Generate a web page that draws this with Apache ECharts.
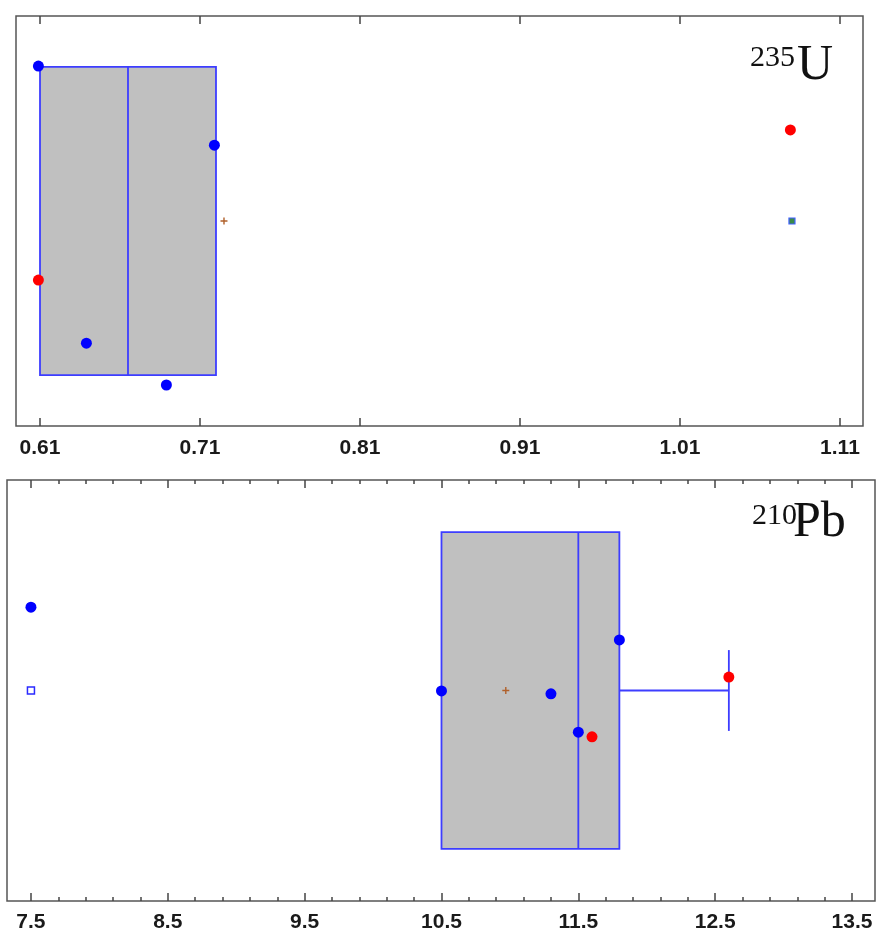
<!DOCTYPE html>
<html>
<head>
<meta charset="utf-8">
<script src="https://cdn.jsdelivr.net/npm/echarts@6/dist/echarts.min.js"></script>
<style>
html,body{margin:0;padding:0;background:#fff;}
#c{width:876px;height:933px;}
</style>
</head>
<body>
<div id="c"></div>
<script>
// ---------- data: 235U ----------
const uTicks = [0.61, 0.71, 0.81, 0.91, 1.01, 1.11];
const uBox = [0.61, 0.665, 0.72, 0.61, 0.72]; // q1, median, q3, whisker low, whisker high
const uBlue = [[0.609, 0.878], [0.719, 0.685], [0.639, 0.202], [0.689, 0.100]];
const uRed = [[0.609, 0.356], [1.079, 0.722]];
const uMean = [[0.725, 0.5]];
const uOutlier = [[1.08, 0.5]];

// ---------- data: 210Pb ----------
const pbTicks = [7.5, 8.5, 9.5, 10.5, 11.5, 12.5, 13.5];
const pbBox = [10.5, 11.5, 11.8, 10.5, 12.6];
const pbBlue = [[10.5, 0.499], [11.8, 0.62], [11.3, 0.492], [11.5, 0.401], [7.5, 0.698]];
const pbRed = [[11.6, 0.39], [12.6, 0.532]];
const pbMean = [[10.97, 0.5]];
const pbOutlier = [[7.5, 0.5]];

// minor ticks: 5 subdivisions between major ticks
const pbMinor = [];
for (let i = 0; i < pbTicks.length - 1; i++) {
  for (let k = 1; k < 5; k++) pbMinor.push(+(pbTicks[i] + k * (pbTicks[i + 1] - pbTicks[i]) / 5).toFixed(2));
}

const BOX_HALF = 0.376, CAP_HALF = 0.096;
const BOX_STROKE = '#3d3dff';
const FRAME = '#555555';

function boxRender(params, api) {
  const q1 = api.value(0), med = api.value(1), q3 = api.value(2), lo = api.value(3), hi = api.value(4);
  const yc = 0.5;
  const p = (x, y) => api.coord([x, y]);
  const ln = (a, b) => ({type: 'line', shape: {x1: a[0], y1: a[1], x2: b[0], y2: b[1]}, style: {stroke: BOX_STROKE, lineWidth: 1.8}});
  const ch = [];
  if (hi > q3) { ch.push(ln(p(q3, yc), p(hi, yc))); ch.push(ln(p(hi, yc + CAP_HALF), p(hi, yc - CAP_HALF))); }
  if (lo < q1) { ch.push(ln(p(lo, yc), p(q1, yc))); ch.push(ln(p(lo, yc + CAP_HALF), p(lo, yc - CAP_HALF))); }
  const a = p(q1, yc + BOX_HALF), b = p(q3, yc - BOX_HALF);
  ch.push({type: 'rect', shape: {x: a[0], y: a[1], width: b[0] - a[0], height: b[1] - a[1]},
    style: {fill: '#c0c0c0', stroke: BOX_STROKE, lineWidth: 1.8}});
  ch.push(ln(p(med, yc + BOX_HALF), p(med, yc - BOX_HALF)));
  return {type: 'group', children: ch};
}

const PLUS = 'path://M4,0H6V4H10V6H6V10H4V6H0V4H4Z';

function tickAxis(grid, pos, min, max, vals, len, labels, fmt, margin) {
  return {
    type: 'value', gridIndex: grid, position: pos, min: min, max: max,
    axisLine: {show: false},
    splitLine: {show: false},
    axisTick: {show: true, inside: true, length: len, customValues: vals, lineStyle: {color: '#444', width: 1.5}},
    axisLabel: labels ? {show: true, customValues: vals, formatter: fmt, fontFamily: 'Liberation Sans, Arial, sans-serif',
      fontWeight: 'bold', fontSize: 21, color: '#1a1a1a', margin: margin} : {show: false},
    axisPointer: {show: false}
  };
}

const uMin = 0.595, uMax = 1.1244;
const pbMin = 7.325, pbMax = 13.668;

const chart = echarts.init(document.getElementById('c'), null, {renderer: 'canvas'});
chart.setOption({
  animation: false,
  backgroundColor: '#fff',
  grid: [
    {left: 16, top: 16, width: 847, height: 410, show: true, borderColor: FRAME, borderWidth: 1.5, backgroundColor: 'transparent'},
    {left: 7, top: 480, width: 868, height: 421, show: true, borderColor: FRAME, borderWidth: 1.5, backgroundColor: 'transparent'}
  ],
  xAxis: [
    tickAxis(0, 'bottom', uMin, uMax, uTicks, 8, true, v => v.toFixed(2), 12),
    tickAxis(0, 'top', uMin, uMax, uTicks, 8, false),
    tickAxis(1, 'bottom', pbMin, pbMax, pbTicks, 8, true, v => v.toFixed(1), 11),
    tickAxis(1, 'top', pbMin, pbMax, pbTicks, 8, false),
    tickAxis(1, 'bottom', pbMin, pbMax, pbMinor, 4, false),
    tickAxis(1, 'top', pbMin, pbMax, pbMinor, 4, false)
  ],
  yAxis: [
    {type: 'value', gridIndex: 0, min: 0, max: 1, show: false},
    {type: 'value', gridIndex: 1, min: 0, max: 1, show: false}
  ],
  series: [
    {type: 'custom', xAxisIndex: 0, yAxisIndex: 0, renderItem: boxRender, data: [uBox], z: 1, silent: true},
    {type: 'scatter', xAxisIndex: 0, yAxisIndex: 0, data: uMean, symbol: PLUS, symbolSize: 7, itemStyle: {color: '#b0602a', opacity: 1}, z: 3},
    {type: 'scatter', xAxisIndex: 0, yAxisIndex: 0, data: uOutlier, symbol: 'rect', symbolSize: 6,
      itemStyle: {color: '#3a8a4a', borderColor: '#4060ff', borderWidth: 1.2, opacity: 1}, z: 3},
    {type: 'scatter', xAxisIndex: 0, yAxisIndex: 0, data: uBlue, symbol: 'circle', symbolSize: 11, itemStyle: {color: '#0000ff', opacity: 1}, z: 4},
    {type: 'scatter', xAxisIndex: 0, yAxisIndex: 0, data: uRed, symbol: 'circle', symbolSize: 11, itemStyle: {color: '#ff0000', opacity: 1}, z: 4},

    {type: 'custom', xAxisIndex: 2, yAxisIndex: 1, renderItem: boxRender, data: [pbBox], z: 1, silent: true},
    {type: 'scatter', xAxisIndex: 2, yAxisIndex: 1, data: pbMean, symbol: PLUS, symbolSize: 7, itemStyle: {color: '#b0602a', opacity: 1}, z: 3},
    {type: 'scatter', xAxisIndex: 2, yAxisIndex: 1, data: pbOutlier, symbol: 'rect', symbolSize: 7,
      itemStyle: {color: '#ffffff', borderColor: '#2a2aff', borderWidth: 1.5, opacity: 1}, z: 3},
    {type: 'scatter', xAxisIndex: 2, yAxisIndex: 1, data: pbBlue, symbol: 'circle', symbolSize: 11, itemStyle: {color: '#0000ff', opacity: 1}, z: 4},
    {type: 'scatter', xAxisIndex: 2, yAxisIndex: 1, data: pbRed, symbol: 'circle', symbolSize: 11, itemStyle: {color: '#ff0000', opacity: 1}, z: 4}
  ],
  graphic: [
    {type: 'text', left: 750, top: 43, style: {text: '235', font: '30px "Liberation Serif", "Times New Roman", serif', fill: '#111'}},
    {type: 'text', left: 797, top: 41, style: {text: 'U', font: '50px "Liberation Serif", "Times New Roman", serif', fill: '#111'}},
    {type: 'text', left: 752, top: 501, style: {text: '210', font: '30px "Liberation Serif", "Times New Roman", serif', fill: '#111'}},
    {type: 'text', left: 793, top: 498, style: {text: 'Pb', font: '50px "Liberation Serif", "Times New Roman", serif', fill: '#111'}}
  ]
});
</script>
</body>
</html>
